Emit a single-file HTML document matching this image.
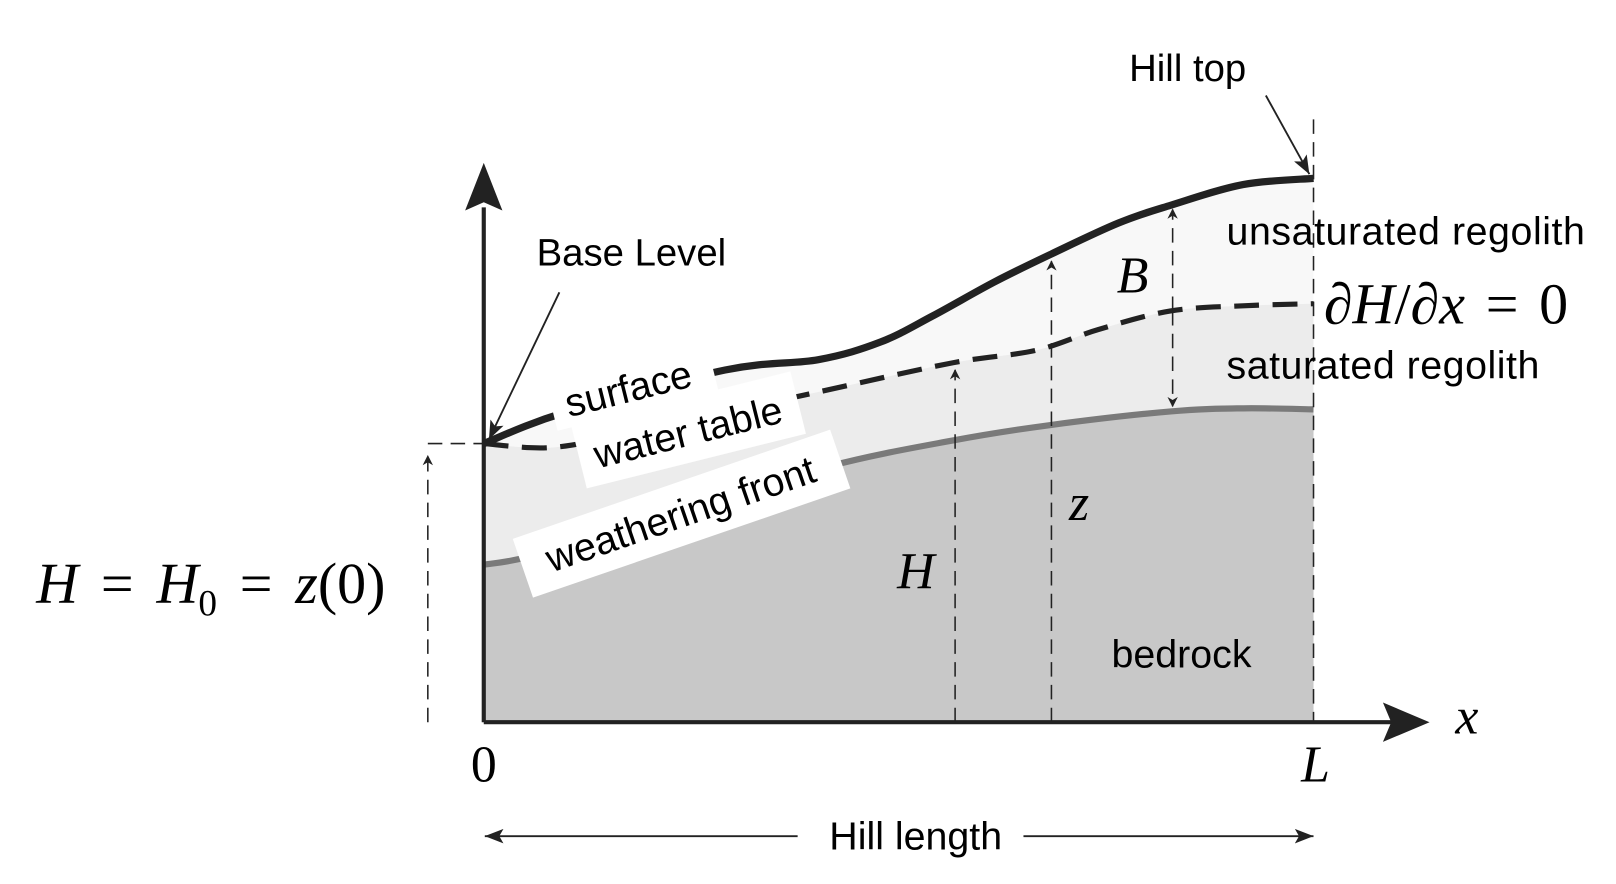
<!DOCTYPE html>
<html><head><meta charset="utf-8"><style>
html,body{margin:0;padding:0;background:#fff;}
svg{display:block}
text{font-family:"Liberation Sans",sans-serif;}
.m{font-family:"Liberation Serif",serif;font-style:italic}
</style></head><body>
<svg id="s" width="1616" height="884" viewBox="0 0 1560 853">
<defs>
<marker id="ah" markerWidth="10" markerHeight="10" refX="9" refY="5" orient="auto" markerUnits="userSpaceOnUse"><path d="M0,0 L10,5 L0,10 L3,5 Z" fill="#222"/></marker>
<marker id="ahs" markerWidth="20" markerHeight="14" refX="18" refY="7" orient="auto" markerUnits="userSpaceOnUse"><path d="M0,0 L18,7 L0,14 L4,7 Z" fill="#222"/></marker>
</defs>
<g id="fills"></g>
<g id="curves"></g>
<line x1="467" y1="697" x2="467" y2="200" stroke="#222" stroke-width="4"/>
<path d="M467,157 L485,203 L467,195 L449,203 Z" fill="#222"/>
<line x1="467" y1="697" x2="1345" y2="697" stroke="#222" stroke-width="4"/>
<path d="M1380,697 L1335,678 L1343,697 L1335,716 Z" fill="#222"/>
<g stroke="#222" stroke-width="1.5" stroke-dasharray="14,8" fill="none">
<line x1="1268" y1="115" x2="1268" y2="697"/>
<line x1="413" y1="697" x2="413" y2="440" marker-end="url(#ah)"/>
<line x1="413" y1="428" x2="467" y2="428"/>
<line x1="922" y1="697" x2="922" y2="357" marker-end="url(#ah)"/>
<line x1="1015" y1="697" x2="1015" y2="252" marker-end="url(#ah)"/>
<line x1="1132" y1="300" x2="1132" y2="202" marker-end="url(#ah)"/>
<line x1="1132" y1="300" x2="1132" y2="392" marker-end="url(#ah)"/>
</g>
<g transform="rotate(-14 606 373)">
<rect x="530" y="340" width="160" height="58" fill="#fff"/>
<text x="606" y="388" font-size="38" text-anchor="middle">surface</text></g>
<g transform="rotate(-14 664 416)">
<rect x="556" y="384" width="218" height="62" fill="#fff"/>
<text x="664" y="430" font-size="38" text-anchor="middle">water table</text></g>
<g transform="rotate(-19 657 496)">
<rect x="496" y="466" width="324" height="60" fill="#fff"/>
<text x="657" y="509" font-size="38" text-anchor="middle">weathering front</text></g>
<text x="518" y="256" font-size="37">Base Level</text>
<line x1="540" y1="282" x2="472" y2="424" stroke="#222" stroke-width="1.8" marker-end="url(#ahs)"/>
<text x="1090" y="78" font-size="37">Hill top</text>
<line x1="1222" y1="92" x2="1264" y2="168" stroke="#222" stroke-width="1.8" marker-end="url(#ahs)"/>
<text x="1184" y="236" font-size="38" textLength="346">unsaturated regolith</text>
<text x="1184" y="365" font-size="38" textLength="302">saturated regolith</text>
<text x="1073" y="644" font-size="38">bedrock</text>
<text x="1278" y="312" font-size="56" style="font-family:'Liberation Serif',serif">∂<tspan class="m">H</tspan>/∂<tspan class="m">x</tspan><tspan dx="20">=</tspan><tspan dx="20">0</tspan></text>
<text x="1078" y="282" font-size="50" class="m">B</text>
<text x="1032" y="502" font-size="50" class="m">z</text>
<text x="866" y="568" font-size="50" class="m">H</text>
<text x="1405" y="708" font-size="50" class="m">x</text>
<text x="35" y="582" font-size="56" style="font-family:'Liberation Serif',serif"><tspan class="m">H</tspan><tspan dx="22">=</tspan><tspan dx="22" class="m">H</tspan><tspan font-size="36" dy="12">0</tspan><tspan dy="-12" dx="22">=</tspan><tspan dx="22" class="m">z</tspan>(0)</text>
<text x="467" y="754" font-size="50" text-anchor="middle" style="font-family:'Liberation Serif',serif">0</text>
<text x="1270" y="754" font-size="50" text-anchor="middle" class="m">L</text>
<line x1="770" y1="807" x2="468" y2="807" stroke="#222" stroke-width="1.8" marker-end="url(#ahs)"/>
<line x1="988" y1="807" x2="1268" y2="807" stroke="#222" stroke-width="1.8" marker-end="url(#ahs)"/>
<text x="884" y="820" font-size="38" text-anchor="middle">Hill length</text>
</svg>
<script>
const surfaceX=[467,545,700,790,850,900,960,1015,1080,1130,1200,1268];
const surfaceY=[428,398,357,347,330,305,272,245,215,198,178,172];
const waterX=[467,530,600,700,800,920,1000,1060,1130,1200,1268];
const waterY=[428,432,420,398,376,350,338,318,300,295,293];
const frontX=[467,520,650,800,920,1015,1130,1200,1268];
const frontY=[545,535,495,450,425,410,397,394,395];
const NS='http://www.w3.org/2000/svg';
function pts(xs,ys){return xs.map(function(x,i){return [x,ys[i]];});}
function smooth(p){var d='M'+p[0][0]+','+p[0][1];for(var i=0;i<p.length-1;i++){var p0=p[Math.max(i-1,0)],p1=p[i],p2=p[i+1],p3=p[Math.min(i+2,p.length-1)];var c1=[p1[0]+(p2[0]-p0[0])/6,p1[1]+(p2[1]-p0[1])/6],c2=[p2[0]-(p3[0]-p1[0])/6,p2[1]-(p3[1]-p1[1])/6];d+=' C'+c1.join(',')+' '+c2.join(',')+' '+p2.join(',');}return d;}
function rev(p){return p.slice().reverse();}
function smoothCont(p){return smooth(p).replace(/^M/,'L');}
var S=pts(surfaceX,surfaceY),W=pts(waterX,waterY),F=pts(frontX,frontY);
var fills=document.getElementById('fills'),curves=document.getElementById('curves');
function mk(parent,d,attrs,name){var e=document.createElementNS(NS,'path');e.setAttribute('d',d);for(var k in attrs)e.setAttribute(k,attrs[k]);


parent.appendChild(e);}
mk(fills,smooth(S)+' L'+W[W.length-1].join(',')+' '+smoothCont(rev(W))+' Z',{fill:'#f8f8f8'},'unsaturated-region');
mk(fills,smooth(W)+' L'+F[F.length-1].join(',')+' '+smoothCont(rev(F))+' Z',{fill:'#ececec'},'saturated-region');
mk(fills,smooth(F)+' L1268,697 L467,697 Z',{fill:'#c8c8c8'},'bedrock-region');
mk(curves,smooth(F),{fill:'none',stroke:'#7a7a7a','stroke-width':6},'weathering-front-line');
mk(curves,smooth(W),{fill:'none',stroke:'#222','stroke-width':5,'stroke-dasharray':'24,13'},'water-table-line');
mk(curves,smooth(S),{fill:'none',stroke:'#222','stroke-width':7},'surface-line');
</script>
</body></html>
